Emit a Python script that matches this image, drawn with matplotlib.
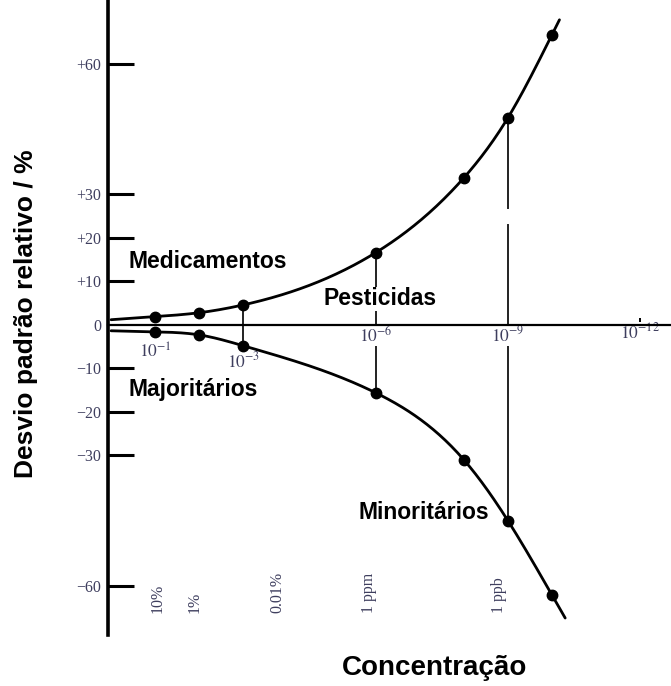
import numpy as np
import matplotlib
matplotlib.use("Agg")
import matplotlib.pyplot as plt

# Concentration expressed as decades below unity: x = -log10(C)
decades = [1, 2, 3, 6, 8, 9, 10]
rsd_upper = [1.9, 2.8, 4.6, 16.6, 33.8, 47.6, 66.7]
rsd_lower = [-1.6, -2.3, -4.8, -15.6, -31.0, -45.0, -62.1]

y_ticks = [60, 30, 20, 10, 0, -10, -20, -30, -60]
y_tick_labels = ["+60", "+30", "+20", "+10", "0", "\u221210", "\u221220", "\u221230", "\u221260"]

x_tick_decades = [1, 3, 6, 9, 12]
x_tick_labels = [r"$10^{-1}$", r"$10^{-3}$", r"$10^{-6}$", r"$10^{-9}$", r"$10^{-12}$"]

unit_labels = ["10%", "1%", "0.01%", "1 ppm", "1 ppb"]

plt.rcParams["mathtext.fontset"] = "stix"
serif = ["Liberation Serif", "DejaVu Serif"]
sans = ["Liberation Sans", "DejaVu Sans"]
tick_col = "#3e3e5e"


def natural_spline(x, y, xs):
    """Natural cubic spline through (x, y); linear continuation outside."""
    x = np.asarray(x, float)
    y = np.asarray(y, float)
    n = len(x)
    h = np.diff(x)
    A = np.zeros((n, n))
    b = np.zeros(n)
    A[0, 0] = A[-1, -1] = 1.0
    for i in range(1, n - 1):
        A[i, i - 1] = h[i - 1]
        A[i, i] = 2 * (h[i - 1] + h[i])
        A[i, i + 1] = h[i]
        b[i] = 3 * ((y[i + 1] - y[i]) / h[i] - (y[i] - y[i - 1]) / h[i - 1])
    c = np.linalg.solve(A, b)
    bb = (np.diff(y) / h) - h * (2 * c[:-1] + c[1:]) / 3
    d = np.diff(c) / (3 * h)
    out = np.empty_like(xs)
    for k, xv in enumerate(xs):
        if xv <= x[0]:
            out[k] = y[0] + bb[0] * (xv - x[0])
        elif xv >= x[-1]:
            t = x[-1] - x[-2]
            slope = bb[-1] + 2 * c[-2] * t + 3 * d[-1] * t * t
            out[k] = y[-1] + slope * (xv - x[-1])
        else:
            i = min(np.searchsorted(x, xv) - 1, n - 2)
            t = xv - x[i]
            out[k] = y[i] + bb[i] * t + c[i] * t * t + d[i] * t ** 3
    return out


fig = plt.figure(figsize=(6.71, 6.86), dpi=100)
ax = fig.add_axes([108 / 671, 1 - 635 / 686, 563 / 671, 635 / 686])
ax.set_xlim(-0.07, 12.7)
ax.set_ylim(-71.3, 74.7)

# smooth trumpet curves through the measured points
xs_u = np.linspace(0, 10.17, 300)
xs_l = np.linspace(0, 10.3, 300)
up = natural_spline(decades, rsd_upper, xs_u)
lo = natural_spline(decades, rsd_lower, xs_l)
ax.plot(xs_u, up, color="black", lw=2.0, zorder=3, solid_capstyle="round")
ax.plot(xs_l, lo, color="black", lw=2.0, zorder=3, solid_capstyle="round")
ax.plot(decades, rsd_upper, "o", color="black", ms=7.5, zorder=4)
ax.plot(decades, rsd_lower, "o", color="black", ms=7.5, zorder=4)

# connectors between the two branches
vline_kw = dict(color="#222222", lw=1.4, zorder=2)
i3, i6, i9 = decades.index(3), decades.index(6), decades.index(9)
ax.plot([3, 3], [rsd_lower[i3], rsd_upper[i3]], **vline_kw)
ax.plot([6, 6], [rsd_lower[i6], rsd_upper[i6]], **vline_kw)
ax.plot([9, 9], [rsd_lower[i9], 23.0], **vline_kw)
ax.plot([9, 9], [26.9, rsd_upper[i9]], **vline_kw)

# axes styling
for s in ("top", "right"):
    ax.spines[s].set_visible(False)
ax.spines["left"].set_linewidth(2.6)
ax.spines["bottom"].set_position(("data", 0))
ax.spines["bottom"].set_linewidth(1.6)
ax.set_yticks(y_ticks)
ax.set_yticklabels(y_tick_labels, fontfamily=serif, fontsize=11.5, color=tick_col)
ax.tick_params(axis="y", direction="in", length=19, width=2.2, pad=5)
ax.set_xticks([12])
ax.set_xticklabels([])
ax.tick_params(axis="x", direction="in", length=5, width=1.4)
for t in ax.yaxis.get_major_ticks():
    if t.get_loc() == 0:
        t.tick1line.set_visible(False)

bg = dict(facecolor="white", edgecolor="none", pad=0.5)
xt_pos = [-6.2, -8.5, -2.5, -2.5, -1.8]
for d, lab, yy in zip(x_tick_decades, x_tick_labels, xt_pos):
    ax.text(d, yy, lab, ha="center", va="center", fontsize=12.5, color=tick_col,
            bbox=bg, zorder=2.2)

unit_x = [1.05, 1.9, 3.78, 5.85, 8.8]
for ux, lab in zip(unit_x, unit_labels):
    ax.text(ux, -66.2, lab, rotation=90, ha="center", va="bottom", fontsize=11.5,
            fontfamily=serif, color=tick_col)

lab_kw = dict(fontfamily=sans, fontweight="bold", fontsize=16.5, va="center")
ax.text(0.39, 14.5, "Medicamentos", ha="left", **lab_kw)
ax.text(4.81, 6.0, "Pesticidas", ha="left", bbox=bg, zorder=2.2, **lab_kw)
ax.text(0.39, -14.9, "Majoritários", ha="left", **lab_kw)
ax.text(7.1, -43.2, "Minoritários", ha="center", **lab_kw)

fig.text(26 / 671, 1 - 314 / 686, "Desvio padrão relativo / %", rotation=90,
         ha="center", va="center", fontfamily=sans, fontweight="bold", fontsize=19)
fig.text(435 / 671, 1 - 668 / 686, "Concentração", ha="center", va="center",
         fontfamily=sans, fontweight="bold", fontsize=20)

fig.savefig("out.png", dpi=100)
